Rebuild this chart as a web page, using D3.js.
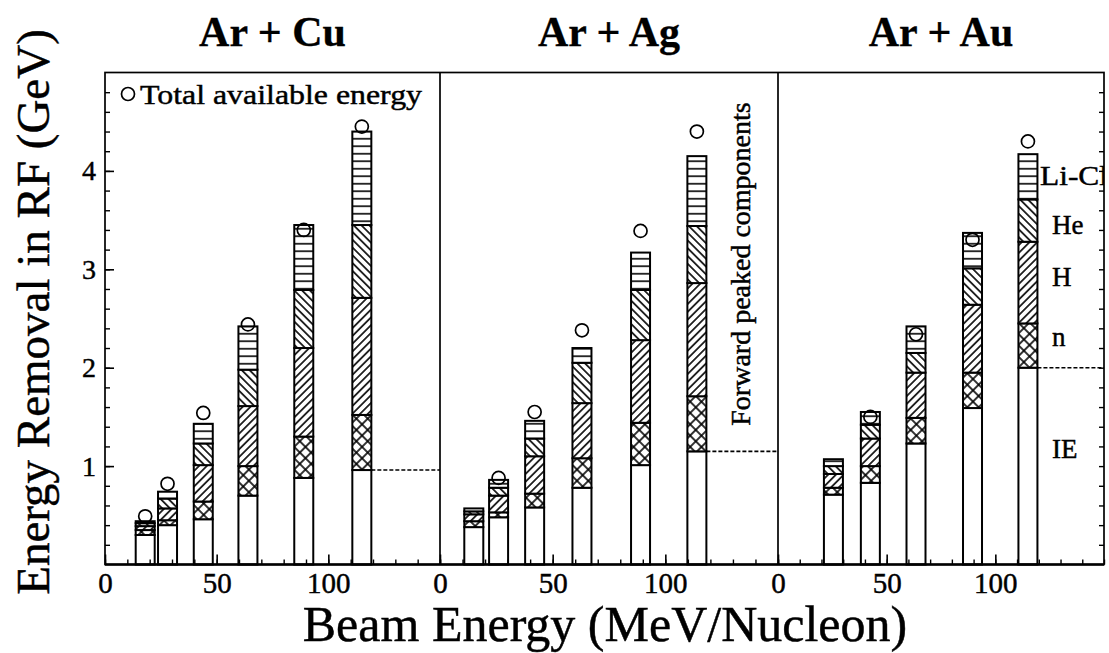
<!DOCTYPE html>
<html>
<head>
<meta charset="utf-8">
<script src="https://cdn.jsdelivr.net/npm/d3@7"></script>
<style>
  body { margin: 0; background: #fff; }
  svg { display: block; }
  text { font-family: "Liberation Serif", "Times New Roman", serif; fill: #000; stroke: #000; stroke-width: 0.45px; }
</style>
</head>
<body>
<svg id="chart" width="1109" height="653"></svg>
<script>
// Energy removed in the reaction frame, split by emitted species (GeV)
const reactions = ["Ar + Cu", "Ar + Ag", "Ar + Au"];
const beamEnergy = [
  [18, 28, 44, 64, 89, 115],
  [15, 26, 42, 63, 89, 114],
  [25.5, 42.5, 63.5, 89.5, 115]
];
const ieRemoval = [
  [0.30, 0.40, 0.46, 0.70, 0.88, 0.96],
  [0.38, 0.48, 0.58, 0.78, 1.01, 1.15],
  [0.71, 0.83, 1.23, 1.59, 2.00]
];
const neutronRemoval = [
  [0.05, 0.05, 0.18, 0.30, 0.42, 0.56],
  [0.06, 0.05, 0.14, 0.30, 0.43, 0.56],
  [0.07, 0.17, 0.26, 0.36, 0.45]
];
const hydrogenRemoval = [
  [0.04, 0.12, 0.37, 0.61, 0.90, 1.19],
  [0.07, 0.17, 0.38, 0.56, 0.84, 1.15],
  [0.14, 0.28, 0.46, 0.69, 0.83]
];
const heliumRemoval = [
  [0.03, 0.10, 0.22, 0.37, 0.59, 0.74],
  [0.03, 0.08, 0.18, 0.41, 0.51, 0.58],
  [0.08, 0.14, 0.20, 0.37, 0.43]
];
const liClRemoval = [
  [0.02, 0.07, 0.20, 0.44, 0.66, 0.95],
  [0.03, 0.08, 0.18, 0.15, 0.38, 0.71],
  [0.07, 0.13, 0.27, 0.36, 0.46]
];
const totalAvailable = [
  [0.49, 0.82, 1.54, 2.44, 3.40, 4.45],
  [null, 0.88, 1.55, 2.38, 3.39, 4.40],
  [null, 1.50, 2.34, 3.30, 4.30]
];
const componentKeys = ["IE", "n", "H", "He", "LiCl"];
const componentLabels = ["IE", "n", "H", "He", "Li-Cl"];
const componentLabelAt = [1.18, 2.32, 2.93, 3.45, 3.95];
const xTickLabels = [0, 50, 100];
const yTickLabels = [1, 2, 3, 4];

// ---- layout ----
const svg = d3.select("#chart");
const serif = '"Liberation Serif", "Times New Roman", serif';
const panelEdges = [105, 440, 778, 1104];
const plotTop = 72.5, plotBottom = 564.5;
const barWidth = 19;

const y = d3.scaleLinear().domain([0, 5]).range([plotBottom, plotTop]);
const xScales = reactions.map((_, i) =>
  d3.scaleLinear().domain([0, 150]).range([panelEdges[i], panelEdges[i + 1]]));

// ---- hatch patterns ----
const defs = svg.append("defs");
function hatch(id, size, angle, lines) {
  const p = defs.append("pattern")
    .attr("id", id)
    .attr("patternUnits", "userSpaceOnUse")
    .attr("width", size).attr("height", size)
    .attr("patternTransform", `rotate(${angle})`);
  p.append("rect").attr("width", size).attr("height", size).attr("fill", "#fff");
  lines.forEach(l => p.append("line")
    .attr("x1", l[0] * size).attr("y1", l[1] * size)
    .attr("x2", l[2] * size).attr("y2", l[3] * size)
    .attr("stroke", "#000").attr("stroke-width", 1.6));
}
hatch("pat-n", 8, 45, [[0.5, 0, 0.5, 1], [0, 0.5, 1, 0.5]]);
hatch("pat-H", 5.5, 45, [[0.5, 0, 0.5, 1]]);
hatch("pat-He", 5.5, -45, [[0.5, 0, 0.5, 1]]);
hatch("pat-LiCl", 7.5, 0, [[0, 0.5, 1, 0.5]]);
const fills = { IE: "#fff", n: "url(#pat-n)", H: "url(#pat-H)", He: "url(#pat-He)", LiCl: "url(#pat-LiCl)" };

defs.append("clipPath").attr("id", "plot-clip")
  .append("rect").attr("x", panelEdges[0]).attr("y", plotTop)
  .attr("width", panelEdges[3] - panelEdges[0]).attr("height", plotBottom - plotTop);

// ---- bars per panel ----
reactions.forEach((name, p) => {
  const x = xScales[p];
  const rows = beamEnergy[p].map((e, i) => ({
    beam: e,
    IE: ieRemoval[p][i], n: neutronRemoval[p][i], H: hydrogenRemoval[p][i],
    He: heliumRemoval[p][i], LiCl: liClRemoval[p][i], total: totalAvailable[p][i]
  }));
  const series = d3.stack().keys(componentKeys)(rows);
  const g = svg.append("g").attr("class", "panel");

  series.forEach(s => {
    g.selectAll(null).data(s).join("rect")
      .attr("x", d => x(d.data.beam) - barWidth / 2)
      .attr("width", barWidth)
      .attr("y", d => y(d[1]))
      .attr("height", d => y(d[0]) - y(d[1]))
      .attr("fill", fills[s.key])
      .attr("stroke", "#000")
      .attr("stroke-width", 2);
  });

  // total available energy markers
  g.selectAll("circle").data(rows.filter(r => r.total != null)).join("circle")
    .attr("cx", d => x(d.beam))
    .attr("cy", d => y(d.total))
    .attr("r", 6.5)
    .attr("fill", "none")
    .attr("stroke", "#000")
    .attr("stroke-width", 1.7);

  // dashed level of the IE part at the highest beam energy
  const last = rows[rows.length - 1];
  g.append("line")
    .attr("x1", x(last.beam) + barWidth / 2).attr("x2", panelEdges[p + 1])
    .attr("y1", y(last.IE)).attr("y2", y(last.IE))
    .attr("stroke", "#000").attr("stroke-width", 1.6)
    .attr("stroke-dasharray", "4,2");

  // panel title
  svg.append("text")
    .attr("x", (panelEdges[p] + panelEdges[p + 1]) / 2)
    .attr("y", 46)
    .attr("text-anchor", "middle")
    .attr("font-size", 42).attr("font-weight", "bold")
    .style("stroke-width", "0.3px")
    .text(name);

  // x axis: major and minor ticks pointing inward
  svg.append("g").attr("transform", `translate(0,${plotBottom})`)
    .call(d3.axisBottom(x).tickValues(d3.range(0, 151, 10)).tickSize(-5).tickFormat(""))
    .call(a => a.select(".domain").remove())
    .call(a => a.selectAll("line").attr("stroke-width", 1.4));
  svg.append("g").attr("transform", `translate(0,${plotBottom})`)
    .call(d3.axisBottom(x).tickValues(xTickLabels).tickSize(-10).tickPadding(8).tickFormat(d3.format("d")))
    .attr("font-family", serif)
    .call(a => a.select(".domain").remove())
    .call(a => a.selectAll("line").attr("stroke-width", 1.6))
    .call(a => a.selectAll("text").attr("font-size", 29).style("font-family", serif));
});

// ---- y axes (left with labels, right ticks only) ----
const minorY = d3.range(0.2, 5, 0.2);
svg.append("g").attr("transform", `translate(${panelEdges[0]},0)`)
  .call(d3.axisLeft(y).tickValues(minorY).tickSize(-5).tickFormat(""))
  .call(a => a.select(".domain").remove())
  .call(a => a.selectAll("line").attr("stroke-width", 1.4));
svg.append("g").attr("transform", `translate(${panelEdges[0]},0)`)
  .call(d3.axisLeft(y).tickValues(yTickLabels).tickSize(-9).tickPadding(9).tickFormat(d3.format("d")))
  .attr("font-family", serif)
  .call(a => a.select(".domain").remove())
  .call(a => a.selectAll("line").attr("stroke-width", 1.6))
  .call(a => a.selectAll("text").attr("font-size", 28).style("font-family", serif));
svg.append("g").attr("transform", `translate(${panelEdges[3]},0)`)
  .call(d3.axisRight(y).tickValues(minorY).tickSize(-5).tickFormat(""))
  .call(a => a.select(".domain").remove())
  .call(a => a.selectAll("line").attr("stroke-width", 1.4));

// ---- frame ----
const frame = svg.append("g").attr("fill", "none").attr("stroke", "#000");
frame.append("rect")
  .attr("x", panelEdges[0]).attr("y", plotTop)
  .attr("width", panelEdges[3] - panelEdges[0]).attr("height", plotBottom - plotTop)
  .attr("stroke-width", 1.7);
panelEdges.slice(1, 3).forEach(px => frame.append("line")
  .attr("x1", px).attr("x2", px).attr("y1", plotTop).attr("y2", plotBottom)
  .attr("stroke-width", 1.7));
frame.append("line")
  .attr("x1", panelEdges[0]).attr("x2", panelEdges[3])
  .attr("y1", plotBottom).attr("y2", plotBottom).attr("stroke-width", 2.6);

// ---- annotations ----
const legend = svg.append("g");
legend.append("circle").attr("cx", 128).attr("cy", 94).attr("r", 6.5)
  .attr("fill", "none").attr("stroke", "#000").attr("stroke-width", 1.7);
legend.append("text").attr("x", 140).attr("y", 104).attr("font-size", 28)
  .attr("textLength", 282).attr("lengthAdjust", "spacingAndGlyphs")
  .text("Total available energy");

svg.append("text")
  .attr("transform", "translate(750,264) rotate(-90)")
  .attr("text-anchor", "middle").attr("font-size", 28)
  .text("Forward peaked components");

const compLabels = svg.append("g").attr("clip-path", "url(#plot-clip)");
componentLabels.forEach((t, i) => {
  const label = compLabels.append("text")
    .attr("x", t === "Li-Cl" ? 1040 : 1052)
    .attr("y", y(componentLabelAt[i]))
    .attr("dy", "0.35em")
    .attr("font-size", 27)
    .text(t);
  if (t === "Li-Cl") label.attr("textLength", 68).attr("lengthAdjust", "spacingAndGlyphs");
});

// axis titles
svg.append("text")
  .attr("x", 605).attr("y", 641)
  .attr("text-anchor", "middle").attr("font-size", 50)
  .text("Beam Energy (MeV/Nucleon)");
svg.append("text")
  .attr("transform", "translate(49,312) rotate(-90)")
  .attr("text-anchor", "middle").attr("font-size", 47)
  .text("Energy Removal in RF (GeV)");
</script>
</body>
</html>
